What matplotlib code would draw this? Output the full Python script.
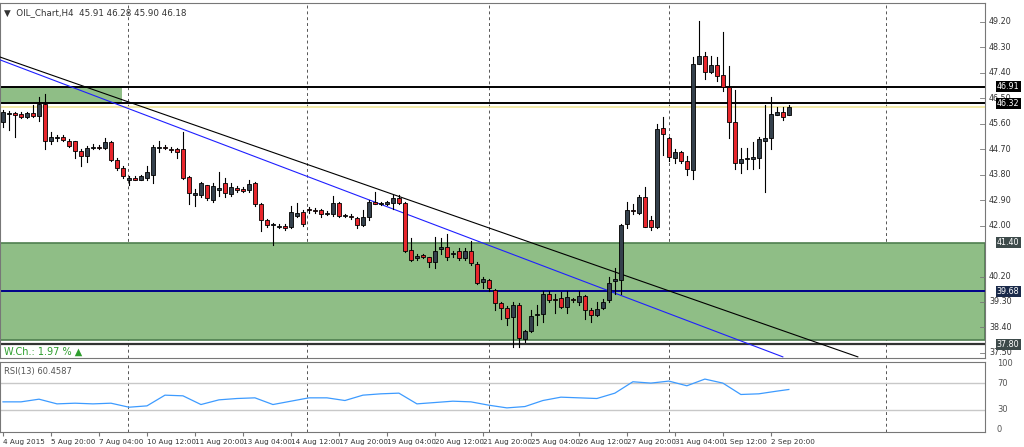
import matplotlib
matplotlib.use("Agg")
import matplotlib.pyplot as plt
import matplotlib.transforms as mtransforms
from matplotlib.patches import Rectangle

opens = [45.67,45.95,45.98,45.95,45.84,45.98,45.88,46.30,44.99,45.10,45.13,44.99,44.99,44.64,44.46,44.75,44.78,44.75,44.96,44.32,
         44.04,43.62,43.69,43.62,43.69,43.79,44.75,44.76,44.70,44.71,44.71,43.72,43.10,43.08,43.44,42.91,43.26,43.51,43.12,43.33,
         43.30,43.26,43.51,42.77,42.20,42.02,41.96,42.00,41.95,42.34,42.48,42.60,42.56,42.55,42.41,42.41,42.80,42.34,42.34,42.27,
         42.02,42.31,42.84,42.77,42.78,42.80,42.98,42.80,41.14,40.86,40.95,40.89,40.72,41.18,41.25,40.98,41.11,40.86,41.11,40.65,
         40.00,40.08,39.73,39.27,39.10,38.78,39.20,37.99,38.28,38.85,38.88,39.59,39.40,39.45,39.13,39.40,39.31,39.52,39.02,38.85,
         39.10,39.38,40.05,40.08,42.06,42.55,42.45,43.01,42.20,41.95,45.45,45.10,44.39,44.60,44.29,43.97,47.72,48.00,47.43,47.68,
         47.33,46.90,45.67,44.22,44.36,44.37,44.39,44.99,45.10,45.91,46.02,45.91]
closes = [46.02,45.98,45.92,45.84,45.98,45.88,46.30,44.99,45.13,45.13,45.03,44.82,44.64,44.46,44.75,44.78,44.75,44.96,44.32,44.04,
          43.76,43.69,43.62,43.76,43.90,44.78,44.78,44.75,44.68,44.60,43.69,43.16,43.16,43.51,42.98,43.40,43.33,43.16,43.37,43.26,
          43.24,43.47,42.77,42.20,42.02,42.06,42.00,41.93,42.48,42.45,42.06,42.55,42.52,42.41,42.44,42.80,42.34,42.36,42.30,42.02,
          42.31,42.84,42.77,42.80,42.82,42.98,42.80,41.11,40.79,40.93,40.90,40.72,41.11,41.25,40.89,41.04,40.86,41.11,40.68,39.98,
          40.12,39.80,39.27,39.10,38.74,39.20,38.03,38.28,38.81,38.88,39.59,39.38,39.36,39.13,39.49,39.36,39.52,39.02,38.85,39.06,
          39.31,39.98,40.12,42.02,42.55,42.50,43.01,41.95,41.95,45.42,45.24,44.43,44.60,44.29,44.00,47.72,48.00,47.43,47.68,47.29,
          46.90,45.67,44.22,44.36,44.39,44.41,45.06,45.10,45.95,46.02,45.84,46.18]
highs = [46.10,46.05,46.02,46.00,46.00,46.25,46.55,46.65,45.30,45.20,45.20,45.05,45.00,44.70,44.80,44.90,44.85,45.10,45.00,44.40,
         44.10,43.75,43.75,43.80,44.10,44.85,45.00,44.85,44.78,44.75,45.31,43.75,43.30,43.55,43.45,43.50,43.90,43.70,43.50,43.40,
         43.35,43.60,43.55,42.80,42.25,42.10,42.05,42.05,42.70,42.80,42.55,42.65,42.62,42.60,42.50,43.05,42.85,42.42,42.40,42.30,
         42.55,42.90,43.20,42.85,42.86,43.10,43.10,42.85,41.55,41.00,41.00,40.90,41.60,41.55,41.70,41.10,41.20,41.20,41.45,40.70,
         40.20,40.10,39.75,39.30,39.15,39.30,39.25,38.30,39.00,39.20,39.70,39.70,39.60,39.65,39.70,39.45,39.70,39.55,39.10,39.30,
         39.40,40.20,40.50,42.05,42.85,42.75,43.10,43.35,42.35,45.60,45.85,45.15,44.70,44.65,44.45,47.95,49.25,48.15,48.00,47.95,
         48.85,47.65,46.80,44.75,44.75,44.95,45.15,46.25,46.55,46.20,46.20,46.28]
lows = [45.50,45.38,45.15,45.80,45.80,45.85,45.70,44.70,44.90,45.00,45.00,44.78,44.40,44.10,44.25,44.70,44.70,44.70,44.30,43.95,
        43.70,43.45,43.60,43.60,43.60,43.50,44.60,44.70,44.60,44.40,43.65,42.75,42.70,43.00,42.90,42.85,43.05,43.00,43.05,43.20,
        43.20,43.20,42.70,41.80,41.95,41.30,41.90,41.85,41.90,42.30,42.00,42.45,42.45,42.30,42.38,42.35,42.30,42.30,42.25,41.90,
        42.00,42.20,42.75,42.72,42.74,42.60,42.75,41.05,40.75,40.80,40.85,40.55,40.50,41.00,40.80,40.90,40.80,40.80,40.60,39.95,
        39.80,39.70,39.00,38.70,38.50,37.70,37.70,37.90,38.25,38.50,38.60,39.30,38.90,39.10,38.90,39.30,39.20,38.70,38.60,38.80,
        39.05,39.30,39.60,39.60,41.90,42.40,42.40,41.95,41.85,41.90,44.50,44.30,44.20,44.20,43.80,43.65,47.70,47.20,47.40,47.10,
        46.75,45.10,44.00,43.85,44.00,44.00,44.05,43.20,44.70,45.90,45.75,45.90]

rsi_idx = [0,3,6,9,12,15,18,21,24,27,30,33,36,39,42,45,48,51,54,57,60,63,66,69,72,75,78,81,84,87,90,93,96,99,102,105,108,111,114,117,120,123,126,129,131]
rsi_val = [42,42,46,39,40,39,40,34,36,52,51,38,45,47,48,38,43,48,48,44,52,54,55,39,41,43,42,37,33,35,44,49,48,47,55,72,70,73,66,76,70,53,54,58,60.46]

date_labels = ["4 Aug 2015","5 Aug 20:00","7 Aug 04:00","10 Aug 12:00","11 Aug 20:00","13 Aug 04:00","14 Aug 12:00",
               "17 Aug 20:00","19 Aug 04:00","20 Aug 12:00","21 Aug 20:00","25 Aug 04:00","26 Aug 12:00","27 Aug 20:00",
               "31 Aug 04:00","1 Sep 12:00","2 Sep 20:00"]
price_ticks = [49.20,48.30,47.40,46.50,45.60,44.70,43.80,42.90,42.00,40.20,39.30,38.40,37.50]
level_lines = [46.91,46.32,41.40,39.68,37.80]
trend_black = [(-0.5,47.96),(142.5,37.36)]
trend_blue = [(-0.5,47.86),(130.0,37.36)]
vgrid = [20.8,50.7,81,111,147.2]

W, H = 1024, 447
fig = plt.figure(figsize=(W/100, H/100), dpi=100)
fig.patch.set_facecolor("white")
def ax_rect(x0, y0, x1, y1):
    return [x0/W, 1-y1/H, (x1-x0)/W, (y1-y0)/H]

ax = fig.add_axes(ax_rect(0, 3, 985, 358))
ax.set_xlim(-0.5, 163.7)
ax.set_ylim(37.32, 49.87)
rsi = fig.add_axes(ax_rect(0, 362, 985, 432))
rsi.set_xlim(-0.5, 163.7)
rsi.set_ylim(-3, 101.5)

for a in (ax, rsi):
    for s in a.spines.values():
        s.set_color("#777777"); s.set_linewidth(0.8)
    a.set_yticks([])
    for v in vgrid:
        a.axvline(v, color="#555555", ls=(0, (3, 3)), lw=0.7, zorder=0)
ax.set_xticks([])

green = "#8fbe86"
ax.add_patch(Rectangle((-0.5, 37.95), 164.2, 41.40-37.95, facecolor=green, edgecolor="#4f7f4f", lw=1.2, zorder=1))
ax.add_patch(Rectangle((-0.5, 46.32), 20.3, 46.91-46.32, facecolor=green, edgecolor="none", zorder=1))
ax.axhline(46.18, color="#f2e79a", lw=1.2, zorder=2)
ax.axhline(46.91, color="black", lw=1.4, zorder=2)
ax.axhline(46.32, color="black", lw=1.4, zorder=2)
ax.axhline(39.68, color="#00008b", lw=1.4, zorder=2)
ax.axhline(37.80, color="#333333", lw=1.6, zorder=2)

ax.plot([p[0] for p in trend_black], [p[1] for p in trend_black], color="black", lw=0.8, zorder=3)
ax.plot([p[0] for p in trend_blue], [p[1] for p in trend_blue], color="#1f1fff", lw=0.8, zorder=3)

for i, (o, c, h, l) in enumerate(zip(opens, closes, highs, lows)):
    ax.plot([i, i], [l, h], color="black", lw=0.8, zorder=4)
    col = "#34404c" if c >= o else "#e8262c"
    lo, hi = min(o, c), max(o, c)
    ax.add_patch(Rectangle((i-0.28, lo), 0.56, max(hi-lo, 0.02), facecolor=col, edgecolor="black", lw=0.6, zorder=5))

tr = mtransforms.blended_transform_factory(ax.transAxes, ax.transData)
for p in price_ticks:
    ax.text(1.004, p, f"{p:.2f}", transform=tr, fontsize=5.8, color="#333333", va="center", ha="left")
    ax.plot([0.995, 1.0], [p, p], transform=tr, color="#777777", lw=0.6, clip_on=False)
box_style = {46.91: "black", 46.32: "black", 41.40: "#3d4a4a", 39.68: "#1a2a4a", 37.80: "#3d4a4a"}
for p in level_lines:
    ax.text(1.012, p, f"{p:.2f}", transform=tr, fontsize=5.8, color="white", va="center", ha="left",
            bbox=dict(boxstyle="square,pad=0.15", fc=box_style[p], ec="none"), zorder=10, clip_on=False)

ax.text(0.004, 0.985, "▼  OIL_Chart,H4  45.91 46.28 45.90 46.18", transform=ax.transAxes, fontsize=6.3,
        color="#333333", va="top", ha="left")
ax.text(0.004, 37.55, "W.Ch.: 1.97 % ▲", fontsize=7, color="#2e9e2e", va="center", ha="left",
        transform=mtransforms.blended_transform_factory(ax.transAxes, ax.transData))

rsi.axhline(70, color="#c8c8c8", lw=1.0, zorder=1)
rsi.axhline(30, color="#c8c8c8", lw=1.0, zorder=1)
rsi.plot(rsi_idx, rsi_val, color="#3d9bff", lw=0.9, zorder=3)
rsi.text(0.004, 0.93, "RSI(13) 60.4587", transform=rsi.transAxes, fontsize=6, color="#555555", va="top")
rtr = mtransforms.blended_transform_factory(rsi.transAxes, rsi.transData)
for v in (100, 70, 30, 0):
    rsi.text(1.012, v, str(v), transform=rtr, fontsize=6, color="#555555", va="center", ha="left")

rsi.set_xticks(range(0, 8*len(date_labels), 8))
rsi.set_xticklabels(date_labels, fontsize=5.2, color="#333333", ha="left")
rsi.tick_params(axis="x", length=3, pad=2, color="#777777")

fig.savefig("out.png", dpi=100)
